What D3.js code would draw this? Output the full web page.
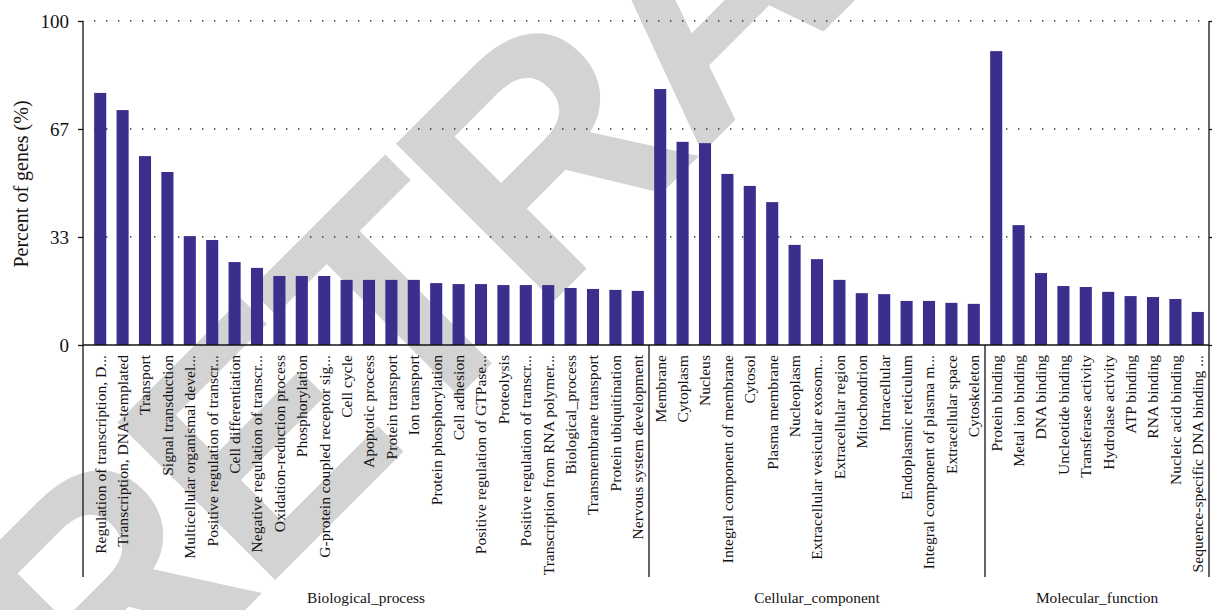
<!DOCTYPE html>
<html>
<head>
<meta charset="utf-8">
<script src="https://cdn.jsdelivr.net/npm/d3@7"></script>
<style>
  html, body { margin: 0; padding: 0; background: #fff; }
  svg { display: block; }
</style>
</head>
<body>
<svg id="chart" width="1212" height="610"></svg>
<script>
// GO term annotation: percent of genes per term, in three ontology groups
const groupNames = ["Biological_process", "Cellular_component", "Molecular_function"];

const bpTerms = [
  "Regulation of transcription, D...", "Transcription, DNA-templated", "Transport",
  "Signal transduction", "Multicellular organismal devel...", "Positive regulation of transcr...",
  "Cell differentiation", "Negative regulation of transcr...", "Oxidation-reduction process",
  "Phosphorylation", "G-protein coupled receptor sig...", "Cell cycle", "Apoptotic process",
  "Protein transport", "Ion transport", "Protein phosphorylation", "Cell adhesion",
  "Positive regulation of GTPase...", "Proteolysis", "Positive regulation of transcr...",
  "Transcription from RNA polymer...", "Biological_process", "Transmembrane transport",
  "Protein ubiquitination", "Nervous system development"
];
const bpValues = [77.8, 72.5, 58.3, 53.4, 33.6, 32.4, 25.6, 23.8, 21.3, 21.3, 21.3, 20.1, 20.1,
  20.1, 20.1, 19.1, 18.8, 18.8, 18.5, 18.5, 18.5, 17.6, 17.3, 17.0, 16.7];

const ccTerms = [
  "Membrane", "Cytoplasm", "Nucleus", "Integral component of membrane", "Cytosol",
  "Plasma membrane", "Nucleoplasm", "Extracellular vesicular exosom...", "Extracellular region",
  "Mitochondrion", "Intracellular", "Endoplasmic reticulum", "Integral component of plasma m...",
  "Extracellular space", "Cytoskeleton"
];
const ccValues = [79.0, 62.7, 62.3, 52.8, 49.1, 44.1, 30.9, 26.5, 20.1, 16.0, 15.7, 13.6, 13.6, 13.0, 12.7];

const mfTerms = [
  "Protein binding", "Metal ion binding", "DNA binding", "Uncleotide binding",
  "Transferase activity", "Hydrolase activity", "ATP binding", "RNA binding",
  "Nucleic acid binding", "Sequence-specific DNA binding ..."
];
const mfValues = [90.7, 37.0, 22.2, 18.2, 17.9, 16.4, 15.1, 14.8, 14.2, 10.2];

const yTickValues = [0, 100 / 3, 200 / 3, 100];
const yTickLabels = ["0", "33", "67", "100"];

// flat table of bars built from the group arrays
const groups = [
  { name: groupNames[0], terms: bpTerms, values: bpValues },
  { name: groupNames[1], terms: ccTerms, values: ccValues },
  { name: groupNames[2], terms: mfTerms, values: mfValues }
];
const rows = [];
groups.forEach((g, gi) => g.terms.forEach((t, i) => rows.push({ term: t, value: g.values[i], group: gi })));

const svg = d3.select("#chart");
const axisX = 83, plotLeft = 89, plotRight = 1209, plotTop = 21, baseY = 345, frameBottom = 577;
const ink = "#141213";
const serif = "'Liberation Serif', 'Times New Roman', serif";

// large diagonal watermark behind everything
const wmSize = 324;
const wm = svg.append("text")
  .attr("font-family", "'Liberation Sans', Arial, sans-serif")
  .attr("font-weight", "bold")
  .attr("font-size", wmSize)
  .attr("letter-spacing", -10)
  .attr("fill", "#d3d3d3")
  .text("RETRACTED");
// place the fourth letter's stem on a fixed point of the diagonal baseline
const wmOff = wm.node().getStartPositionOfChar(3).x + 0.073 * wmSize;
const wmAnchor = [555, 300];
const c45 = Math.SQRT1_2;
wm.attr("transform", `translate(${wmAnchor[0] - wmOff * c45},${wmAnchor[1] + wmOff * c45}) rotate(-45)`);

const x = d3.scaleBand()
  .domain(d3.range(rows.length))
  .range([plotLeft, plotRight])
  .paddingInner(0.46)
  .paddingOuter(0.23);

const y = d3.scaleLinear().domain([0, 100]).range([baseY, plotTop]);

// dotted grid lines
svg.append("g")
  .selectAll("line")
  .data(yTickValues.filter(v => v > 0))
  .join("line")
  .attr("x1", axisX).attr("x2", plotRight)
  .attr("y1", d => y(d)).attr("y2", d => y(d))
  .attr("stroke", "#333")
  .attr("stroke-width", 1.4)
  .attr("stroke-dasharray", "1.4,10.6")
  .attr("stroke-dashoffset", -11);

// bars
svg.append("g")
  .selectAll("rect")
  .data(rows)
  .join("rect")
  .attr("x", (d, i) => x(i))
  .attr("width", x.bandwidth())
  .attr("y", d => y(d.value))
  .attr("height", d => y(0) - y(d.value))
  .attr("fill", "#3b2f8e");

// left axis
const yAxis = d3.axisLeft(y)
  .tickValues(yTickValues)
  .tickFormat((d, i) => yTickLabels[i])
  .tickSize(5)
  .tickPadding(9);
const ga = svg.append("g").attr("transform", `translate(${axisX},0)`).call(yAxis);
ga.select(".domain").remove();
ga.selectAll(".tick line").attr("stroke", ink).attr("stroke-width", 1.3);
ga.selectAll(".tick text")
  .attr("font-family", serif).attr("font-size", 19).attr("fill", ink);

// right axis: ticks only
const yAxisR = d3.axisRight(y).tickValues(yTickValues).tickSize(3).tickFormat("");
const gr = svg.append("g").attr("transform", `translate(${plotRight},0)`).call(yAxisR);
gr.select(".domain").remove();
gr.selectAll(".tick line").attr("stroke", ink).attr("stroke-width", 1.3);

// frame lines: baseline, outer verticals and group separators
svg.append("line")
  .attr("x1", axisX).attr("x2", plotRight).attr("y1", baseY).attr("y2", baseY)
  .attr("stroke", ink).attr("stroke-width", 1.5);
svg.append("line")
  .attr("x1", axisX).attr("x2", axisX).attr("y1", plotTop).attr("y2", frameBottom)
  .attr("stroke", ink).attr("stroke-width", 1.3);
svg.append("line")
  .attr("x1", plotRight).attr("x2", plotRight).attr("y1", plotTop).attr("y2", frameBottom)
  .attr("stroke", ink).attr("stroke-width", 1.3);

const groupStarts = [];
let acc = 0;
groups.forEach(g => { groupStarts.push(acc); acc += g.terms.length; });
const step = x.step();
const sepX = groupStarts.slice(1).map(s => x(s) - x.paddingInner() * step / 2);
svg.append("g")
  .selectAll("line")
  .data(sepX)
  .join("line")
  .attr("x1", d => d).attr("x2", d => d)
  .attr("y1", baseY).attr("y2", frameBottom)
  .attr("stroke", ink).attr("stroke-width", 1.3);

// rotated category labels
svg.append("g")
  .selectAll("text")
  .data(rows)
  .join("text")
  .attr("transform", (d, i) => `translate(${x(i) + x.bandwidth() / 2},${baseY + 10}) rotate(-90)`)
  .attr("dy", "0.35em")
  .attr("text-anchor", "end")
  .attr("font-family", serif)
  .attr("font-size", 15.6)
  .attr("fill", ink)
  .text(d => d.term);

// group titles centred under each group
const bounds = [axisX, ...sepX, plotRight];
svg.append("g")
  .selectAll("text")
  .data(groups)
  .join("text")
  .attr("x", (d, i) => (bounds[i] + bounds[i + 1]) / 2)
  .attr("y", 603)
  .attr("text-anchor", "middle")
  .attr("font-family", serif)
  .attr("font-size", 15.4)
  .attr("fill", ink)
  .text(d => d.name);

// y axis title
svg.append("text")
  .attr("transform", `translate(21,${(plotTop + baseY) / 2 + 1}) rotate(-90)`)
  .attr("dy", "0.35em")
  .attr("text-anchor", "middle")
  .attr("font-family", serif)
  .attr("font-size", 20)
  .attr("fill", ink)
  .text("Percent of genes (%)");
</script>
</body>
</html>
